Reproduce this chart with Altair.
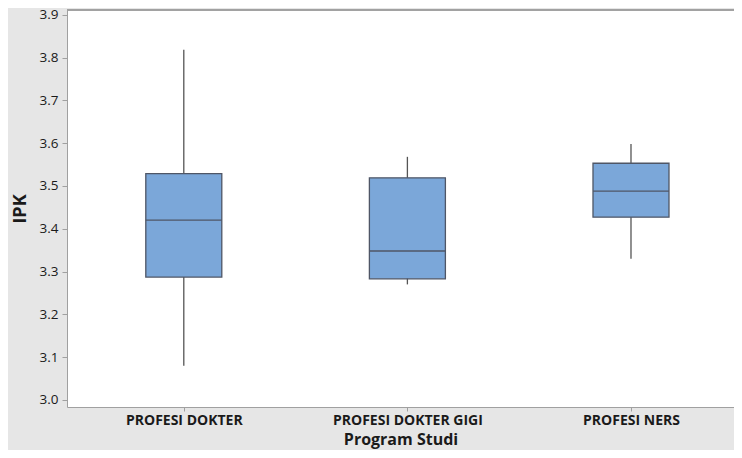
import json
import altair as alt
import pandas as pd

programs = ["PROFESI DOKTER", "PROFESI DOKTER GIGI", "PROFESI NERS"]
whisker_low = [3.08, 3.27, 3.33]
q1 = [3.287, 3.283, 3.427]
median = [3.42, 3.348, 3.488]
q3 = [3.529, 3.519, 3.553]
whisker_high = [3.818, 3.568, 3.598]
y_ticks = [3.0, 3.1, 3.2, 3.3, 3.4, 3.5, 3.6, 3.7, 3.8, 3.9]

df = pd.DataFrame({
    "idx": list(range(len(programs))),
    "Program Studi": programs,
    "low": whisker_low,
    "q1": q1,
    "median": median,
    "q3": q3,
    "high": whisker_high,
})

FONT = "Open Sans"
W, H = 667, 397
BOX_W = 76
STEP = 227.0
x_lo = -0.5
x_hi = x_lo + W / STEP

label_expr = json.dumps(programs) + "[datum.value]"

xs = alt.X("idx:Q",
           scale=alt.Scale(domain=[x_lo, x_hi], nice=False, zero=False),
           axis=alt.Axis(title="Program Studi", values=list(range(len(programs))),
                         labelExpr=label_expr, labelAngle=0, labelFont=FONT,
                         labelFontSize=14, labelFontWeight="bold", labelColor="#1a1a1a",
                         titleFont=FONT, titleFontSize=16, titleFontWeight="bold",
                         titleColor="#1a1a1a", tickSize=4, tickColor="#a0a0a0",
                         domainColor="#a0a0a0", labelPadding=2, titlePadding=4,
                         grid=False, labelFlush=False, labelOverlap=False))
ys = alt.Y("low:Q",
           scale=alt.Scale(domain=[2.9836, 3.911], nice=False, zero=False),
           axis=alt.Axis(title="IPK", values=y_ticks, format=".1f", labelFont=FONT,
                         labelFontSize=13.5, labelColor="#1a1a1a", titleFont=FONT,
                         titleFontSize=18, titleFontWeight="bold", titleColor="#1a1a1a",
                         tickSize=5, tickColor="#a0a0a0", domainColor="#a0a0a0",
                         labelPadding=4, titlePadding=10, grid=False))

base = alt.Chart(df)

whiskers = base.mark_rule(color="#555555", strokeWidth=1.3).encode(
    x=xs, y=ys, y2="high:Q")
boxes = base.mark_bar(size=BOX_W, fill="#7ba7d9", stroke="#4f5666", strokeWidth=1.3,
                      orient="vertical").encode(
    x=xs, y=alt.Y("q1:Q"), y2="q3:Q")
medians = base.mark_tick(size=BOX_W, thickness=1.3, color="#4f5666", opacity=1,
                         orient="horizontal").encode(
    x=xs, y=alt.Y("median:Q"))
top_border = base.mark_rule(color="#a0a0a0", strokeWidth=1.5).encode(
    x=alt.value(0), x2=alt.value(W), y=alt.value(0))

chart = alt.layer(whiskers, boxes, medians, top_border).properties(
    width=W, height=H,
    autosize=alt.AutoSizeParams(type="none"),
    padding={"left": 59, "top": 2, "right": 0, "bottom": 43},
    background="#e6e6e6",
).configure_view(stroke=None, fill="white")

chart.save("out.html", embed_options={"renderer": "svg", "actions": False})
